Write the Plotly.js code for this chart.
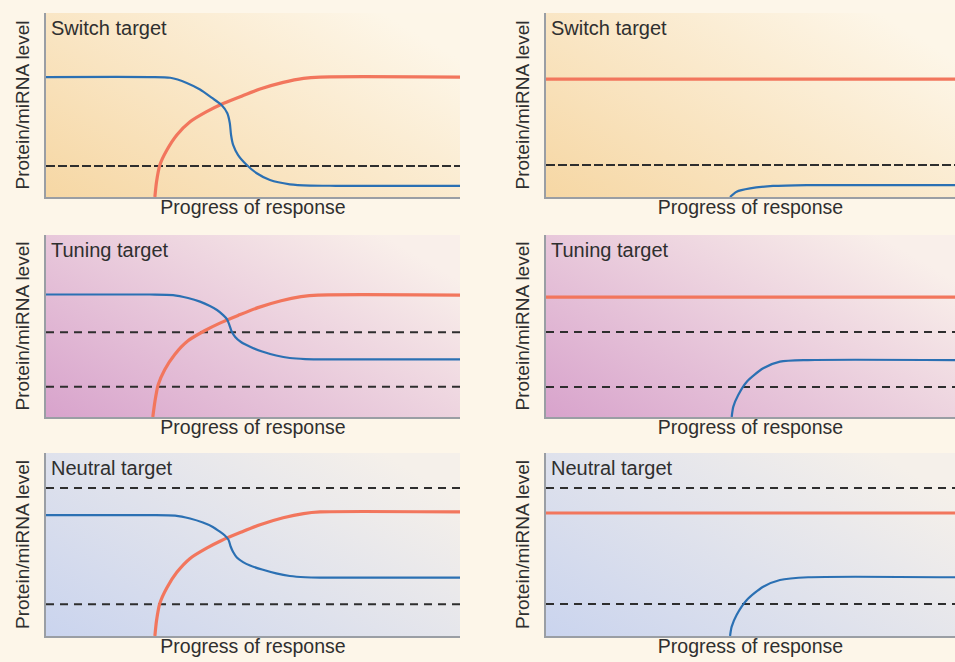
<!DOCTYPE html>
<html>
<head>
<meta charset="utf-8">
<script src="https://cdn.plot.ly/plotly-3.0.1.min.js"></script>
<style>html,body{margin:0;padding:0;background:#fdf6e9;}#chart{width:955px;height:662px;}</style>
</head>
<body>
<div id="chart"></div>
<script>
// ---------- data (panel units: x 0-100 progress, y 0-100 level) ----------
const panelTitles = ["Switch target", "Switch target", "Tuning target", "Tuning target", "Neutral target", "Neutral target"];
const xTitle = "Progress of response";
const yTitle = "Protein/miRNA level";

// Panel 1 (Switch, left)
const p1BlueX = [0, 25.1, 30.0, 34.0, 37.2, 40.0, 42.4, 43.8, 44.4, 44.7, 45.2, 46.4, 48.5, 50.9, 54.1, 58.9, 63.8, 70, 100];
const p1BlueY = [65.2, 65.2, 64.8, 62.0, 58.4, 54.0, 50.0, 45.5, 40.1, 33.7, 28.3, 22.8, 17.4, 12.9, 9.2, 6.9, 6.2, 6.1, 6.1];
const p1RedX = [26.3, 26.7, 27.5, 29.2, 31.6, 34.8, 38.8, 42.4, 46.9, 51.7, 57.3, 62.2, 66.2, 100];
const p1RedY = [0, 8.3, 17.4, 25.5, 33.7, 40.9, 46.4, 50.4, 54.5, 58.7, 62.3, 64.5, 65.2, 65.2];
const p1Dashed = [16.8];

// Panel 2 (Switch, right)
const p2BlueX = [45.0, 46.6, 49.9, 55.5, 63.8, 100];
const p2BlueY = [0, 2.9, 4.7, 6.0, 6.5, 6.5];
const p2RedX = [0, 100];
const p2RedY = [64.1, 64.1];
const p2Dashed = [17.4];

// Panel 3 (Tuning, left)
const p3BlueX = [0, 25.1, 30.7, 34.3, 37.2, 39.6, 41.3, 42.8, 43.7, 44.3, 44.8, 45.7, 47.1, 49.3, 52.2, 55.6, 58.9, 62.6, 66.2, 100];
const p3BlueY = [67.3, 67.3, 67.0, 65.4, 63.4, 61.0, 58.8, 56.0, 53.8, 50.5, 47.3, 44.0, 41.2, 38.6, 36.0, 33.8, 32.4, 31.8, 31.7, 31.7];
const p3RedX = [25.8, 26.3, 27.1, 28.7, 31.1, 34.3, 38.3, 42.0, 46.4, 51.2, 56.8, 61.6, 65.7, 100];
const p3RedY = [0, 8.4, 17.7, 26.1, 34.4, 41.9, 47.4, 51.6, 55.8, 60.1, 63.9, 66.1, 67.0, 67.0];
const p3Dashed = [46.5, 16.6];

// Panel 4 (Tuning, right)
const p4BlueX = [45.4, 45.8, 47.0, 49.1, 53.1, 57.2, 64.1, 100];
const p4BlueY = [0, 5.7, 12.1, 19.4, 26.8, 30.4, 31.3, 31.3];
const p4RedX = [0, 100];
const p4RedY = [65.9, 65.9];
const p4Dashed = [46.7, 16.5];

// Panel 5 (Neutral, left)
const p5BlueX = [0, 25.1, 31.2, 34.8, 37.9, 40.3, 42.0, 43.2, 44.1, 44.6, 45.2, 46.1, 47.6, 49.3, 52.2, 55.6, 58.9, 62.6, 66.2, 100];
const p5BlueY = [66.1, 66.1, 65.8, 64.2, 62.0, 59.6, 57.0, 54.9, 52.5, 48.9, 45.9, 42.9, 40.4, 38.5, 36.3, 34.2, 32.8, 32.1, 31.9, 31.9];
const p5RedX = [26.3, 26.7, 27.5, 29.2, 31.6, 34.8, 38.8, 42.4, 46.9, 51.7, 57.3, 62.2, 66.2, 100];
const p5RedY = [0, 8.5, 17.9, 26.4, 34.8, 42.4, 48.0, 52.2, 56.5, 60.8, 64.6, 66.9, 67.8, 67.8];
const p5Dashed = [80.9, 17.3];

// Panel 6 (Neutral, right)
const p6BlueX = [45.0, 45.4, 46.6, 49.1, 53.1, 57.2, 64.1, 100];
const p6BlueY = [0, 5.1, 11.5, 19.7, 26.9, 30.6, 32.1, 32.1];
const p6RedX = [0, 100];
const p6RedY = [67.2, 67.2];
const p6Dashed = [80.9, 17.5];

// ---------- styling / layout ----------
const BLUE = "#2b70b3";
const RED = "#f2765d";
const DASH = "#2e2e2e";
const FONT = "Liberation Sans, Arial, Helvetica, sans-serif";

const panels = [
  {bx: p1BlueX, by: p1BlueY, rx: p1RedX, ry: p1RedY, d: p1Dashed, dash: "9px,3px"},
  {bx: p2BlueX, by: p2BlueY, rx: p2RedX, ry: p2RedY, d: p2Dashed, dash: "9px,3px"},
  {bx: p3BlueX, by: p3BlueY, rx: p3RedX, ry: p3RedY, d: p3Dashed, dash: "8px,6px"},
  {bx: p4BlueX, by: p4BlueY, rx: p4RedX, ry: p4RedY, d: p4Dashed, dash: "8px,6px"},
  {bx: p5BlueX, by: p5BlueY, rx: p5RedX, ry: p5RedY, d: p5Dashed, dash: "8px,6px"},
  {bx: p6BlueX, by: p6BlueY, rx: p6RedX, ry: p6RedY, d: p6Dashed, dash: "8px,6px"}
];

const W = 955, H = 662;
const colDom = [[46 / W, 460 / W], [546 / W, 1]];
const rowPx = [[13, 197], [235, 417], [453, 636]];
const rowDom = rowPx.map(r => [1 - r[1] / H, 1 - r[0] / H]);
const grad = [["#f6d7a4", "#fdf6e8"], ["#d8a3cc", "#f9efea"], ["#cad4ee", "#f5f0ea"]];

function gradSvg(c0, c1) {
  const s = '<svg xmlns="http://www.w3.org/2000/svg" width="400" height="180" viewBox="0 0 400 180" preserveAspectRatio="none">' +
    '<defs><linearGradient id="g" x1="0" y1="1" x2="1" y2="0.25">' +
    '<stop offset="0" stop-color="' + c0 + '"/><stop offset="1" stop-color="' + c1 + '"/></linearGradient></defs>' +
    '<rect width="400" height="180" fill="url(#g)"/></svg>';
  return "data:image/svg+xml;base64," + btoa(s);
}

const traces = [];
const layout = {
  width: W, height: H,
  margin: {l: 0, r: 0, t: 0, b: 0},
  paper_bgcolor: "#fdf6e9",
  plot_bgcolor: "rgba(0,0,0,0)",
  showlegend: false,
  font: {family: FONT, color: "#2f2f2f", size: 17},
  annotations: [],
  images: []
};

panels.forEach((p, i) => {
  const row = Math.floor(i / 2), col = i % 2;
  const n = i + 1;
  const xa = n === 1 ? "x" : "x" + n;
  const ya = n === 1 ? "y" : "y" + n;
  const xk = n === 1 ? "xaxis" : "xaxis" + n;
  const yk = n === 1 ? "yaxis" : "yaxis" + n;
  layout[xk] = {
    domain: colDom[col], anchor: ya, range: [0, 100],
    showgrid: false, zeroline: false, showticklabels: false, ticks: "",
    showline: true, linecolor: "#9a9ea4", linewidth: 1.6,
    title: {text: xTitle, font: {size: 19.5, color: "#2f2f2f", family: FONT}, standoff: 3}
  };
  layout[yk] = {
    domain: rowDom[row], anchor: xa, range: [0, 100],
    showgrid: false, zeroline: false, showticklabels: false, ticks: "",
    showline: true, linecolor: "#9a9ea4", linewidth: 1.6,
    title: {text: yTitle, font: {size: 19, color: "#2f2f2f", family: FONT}, standoff: 10}
  };
  layout.images.push({
    source: gradSvg(grad[row][0], grad[row][1]),
    xref: "paper", yref: "paper",
    x: colDom[col][0], y: rowDom[row][1],
    sizex: colDom[col][1] - colDom[col][0], sizey: rowDom[row][1] - rowDom[row][0],
    xanchor: "left", yanchor: "top", sizing: "stretch", layer: "below"
  });
  layout.annotations.push({
    text: panelTitles[i], showarrow: false,
    xref: "paper", yref: "paper",
    x: colDom[col][0] + 3 / W, y: 1 - (rowPx[row][0] + 15) / H,
    xanchor: "left", yanchor: "middle",
    font: {size: 20, color: "#2f2f2f", family: FONT}
  });
  p.d.forEach(v => {
    traces.push({
      x: [0, 100], y: [v, v], xaxis: xa, yaxis: ya, mode: "lines",
      line: {color: DASH, width: 2, dash: p.dash}, hoverinfo: "skip"
    });
  });
  traces.push({
    x: p.rx, y: p.ry, xaxis: xa, yaxis: ya, mode: "lines",
    line: {color: RED, width: 3.2, shape: "spline", smoothing: 0.7}
  });
  traces.push({
    x: p.bx, y: p.by, xaxis: xa, yaxis: ya, mode: "lines",
    line: {color: BLUE, width: 2.2, shape: "spline", smoothing: 0.7}
  });
});

Plotly.newPlot("chart", traces, layout, {staticPlot: true, displayModeBar: false});
</script>
</body>
</html>
